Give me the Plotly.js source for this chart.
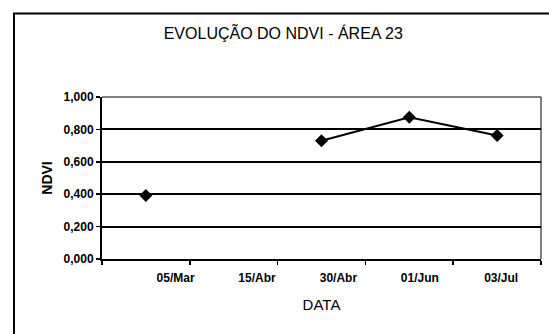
<!DOCTYPE html>
<html>
<head>
<meta charset="utf-8">
<script src="https://cdn.plot.ly/plotly-3.0.1.min.js"></script>
<style>
html,body{margin:0;padding:0;background:#fff;}
#chart{width:549px;height:334px;}
</style>
</head>
<body>
<div id="chart"></div>
<script>
const categories = ["05/Mar", "15/Abr", "30/Abr", "01/Jun", "03/Jul"];
const ndvi = [0.392, null, 0.730, 0.875, 0.762];
const tickLabels = ["05/Mar", "15/Abr", "30/Abr", "01/Jun", "03/Jul"];
const yTicks = [0, 0.2, 0.4, 0.6, 0.8, 1.0];

const FONT = "Liberation Sans, Arial, sans-serif";

const traces = [
  {
    x: categories,
    y: ndvi,
    type: "scatter",
    mode: "lines+markers",
    connectgaps: false,
    line: {color: "#000", width: 2},
    marker: {symbol: "diamond", size: 10, color: "#000"},
    hoverinfo: "skip",
    showlegend: false
  },
  {
    x: [], y: [], xaxis: "x2", yaxis: "y", type: "scatter", mode: "markers",
    showlegend: false, hoverinfo: "skip"
  }
];

const layout = {
  width: 549,
  height: 334,
  margin: {l: 102, r: 8, t: 97, b: 75},
  paper_bgcolor: "#fff",
  plot_bgcolor: "#fff",
  separators: ",.",
  font: {family: FONT, color: "#000"},
  title: {
    text: "EVOLUÇÃO DO NDVI - ÁREA 23",
    font: {family: FONT, size: 16, color: "#000"},
    xref: "container", x: 0.516, xanchor: "center",
    yref: "container", y: 1 - 33 / 334, yanchor: "middle"
  },
  xaxis: {
    type: "category",
    tickson: "boundaries",
    ticks: "outside",
    ticklen: 4,
    tickwidth: 1.5,
    tickcolor: "#000",
    showticklabels: false,
    showgrid: false,
    showline: true,
    linecolor: "#000",
    linewidth: 2,
    zeroline: false,
    range: [-0.5, 4.5],
    fixedrange: true,
    title: {
      text: "DATA",
      font: {family: FONT, size: 15, color: "#000"},
      standoff: 39
    }
  },
  xaxis2: {
    type: "linear",
    overlaying: "x",
    anchor: "y",
    side: "bottom",
    range: [-0.904, 4.489],
    tickmode: "array",
    tickvals: [0, 1, 2, 3, 4],
    ticktext: tickLabels,
    ticks: "",
    showgrid: false,
    showline: false,
    zeroline: false,
    ticklabelstandoff: 10,
    tickfont: {family: FONT, size: 12, color: "#000", weight: "bold"},
    fixedrange: true
  },
  yaxis: {
    range: [0, 1],
    tickmode: "array",
    tickvals: yTicks,
    tickformat: ".3f",
    ticks: "outside",
    ticklen: 4,
    tickwidth: 1.5,
    tickcolor: "#000",
    tickfont: {family: FONT, size: 12, color: "#000", weight: "bold"},
    showgrid: true,
    gridcolor: "#000",
    gridwidth: 2,
    showline: true,
    linecolor: "#000",
    linewidth: 2,
    zeroline: false,
    fixedrange: true,
    title: {
      text: "NDVI",
      font: {family: FONT, size: 14, color: "#000", weight: "bold"},
      standoff: 8
    }
  },
  shapes: [
    {type: "line", xref: "paper", yref: "paper", x0: 1, x1: 1, y0: 0, y1: 1,
     line: {color: "#000", width: 1}},
    {type: "line", xref: "paper", yref: "paper", x0: 0, x1: 1, y0: 1, y1: 1,
     line: {color: "#000", width: 1}},
    {type: "rect", xref: "paper", yref: "paper",
     x0: -0.2005, x1: 1.05, y0: -0.55, y1: 1.515,
     line: {color: "#000", width: 2}, fillcolor: "rgba(0,0,0,0)", layer: "below"}
  ]
};

Plotly.newPlot("chart", traces, layout, {displayModeBar: false, staticPlot: true});
</script>
</body>
</html>
